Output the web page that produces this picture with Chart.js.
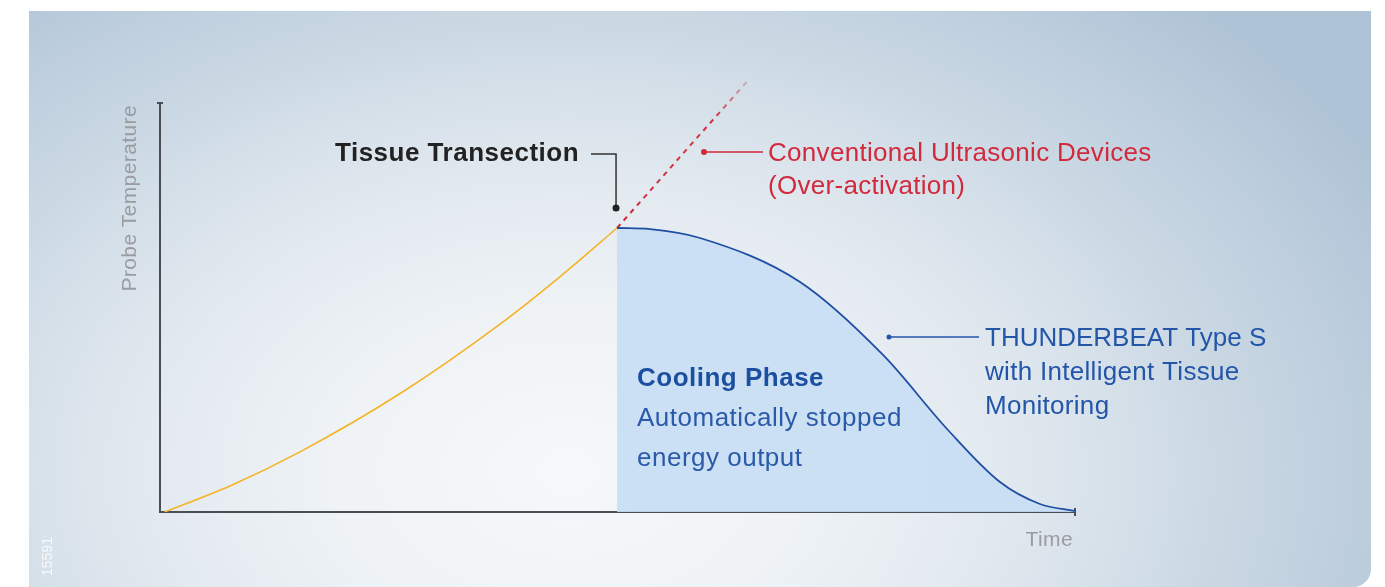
<!DOCTYPE html>
<html>
<head>
<meta charset="utf-8">
<script src="https://cdn.jsdelivr.net/npm/chart.js@4.4.1/dist/chart.umd.min.js"></script>
<style>
  html, body { margin: 0; padding: 0; background: #fff; }
  body { width: 1385px; height: 587px; position: relative; overflow: hidden; }
  #panel {
    position: absolute; left: 29px; top: 11px; width: 1342px; height: 576px;
    border-radius: 0 0 18px 0;
    background: radial-gradient(ellipse 930px 640px at 540px 460px,
      #f6f8fa 0%, #eff3f6 25%, #dfe7ee 50%, #c9d7e3 72%, #afc3d6 100%);
  }
  #chart { position: absolute; left: 0; top: 0; }
</style>
</head>
<body>
<div id="panel"></div>
<canvas id="chart" width="1385" height="587"></canvas>
<script>
// time (0-100) / probe temperature (0-100)
const heatX = [0.5, 7.7, 15.3, 26.2, 37.2, 43.7, 49.95];
const heatY = [0, 6.4, 14.7, 28.9, 46.0, 57.5, 69.44];

const overX = [49.95, 57.1, 64.3];
const overY = [69.44, 87.5, 105.6];

const coolX = [49.95, 53.55, 59.02, 69.95, 79.02, 86.12, 91.8, 96.17, 100];
const coolY = [69.44, 69.15, 66.99, 56.23, 38.39, 20.05, 7.33, 1.96, 0.24];

const axisLabels = ['Time', 'Probe Temperature'];

const pts = (xs, ys) => xs.map((x, i) => ({ x: x, y: ys[i] }));

const FONT = '"Liberation Sans", Arial, Helvetica, sans-serif';

const overlay = {
  id: 'overlay',
  beforeDatasetsDraw(chart) {
    const { ctx } = chart;
    const xs = chart.scales.x, ys = chart.scales.y;
    const x0 = xs.getPixelForValue(0), x1 = xs.getPixelForValue(100);
    const y0 = ys.getPixelForValue(0), y1 = ys.getPixelForValue(100);
    ctx.save();
    ctx.strokeStyle = '#4a4d52';
    ctx.lineWidth = 2;
    ctx.beginPath();
    ctx.moveTo(x0, y1); ctx.lineTo(x0, y0); ctx.lineTo(x1, y0);
    ctx.moveTo(x0 - 3, y1); ctx.lineTo(x0 + 3, y1);
    ctx.moveTo(x1, y0 - 4); ctx.lineTo(x1, y0 + 4);
    ctx.stroke();

    // axis titles
    ctx.fillStyle = '#9a9c9f';
    ctx.font = '21px ' + FONT;
    ctx.letterSpacing = '0.4px';
    ctx.textBaseline = 'middle';
    ctx.textAlign = 'right';
    ctx.fillText(axisLabels[0], x1 - 2, y0 + 28);
    ctx.save();
    ctx.translate(x0 - 30, y1 + 2);
    ctx.rotate(-Math.PI / 2);
    ctx.textAlign = 'right';
    ctx.fillText(axisLabels[1], 0, 0);
    ctx.restore();

    // id number
    ctx.save();
    ctx.translate(48, 576);
    ctx.rotate(-Math.PI / 2);
    ctx.fillStyle = 'rgba(255,255,255,0.8)';
    ctx.font = '14px ' + FONT;
    ctx.letterSpacing = '0px';
    ctx.textAlign = 'left';
    ctx.fillText('15591', 0, 0);
    ctx.restore();
    ctx.restore();
  },
  afterDatasetsDraw(chart) {
    const { ctx } = chart;
    const xs = chart.scales.x;
    const dot = (x, y, r, c) => {
      ctx.fillStyle = c; ctx.beginPath(); ctx.arc(x, y, r, 0, Math.PI * 2); ctx.fill();
    };
    ctx.save();
    ctx.textBaseline = 'middle';
    ctx.textAlign = 'left';

    // Tissue Transection
    const tx = xs.getPixelForValue(heatX[heatX.length - 1]) - 1;
    ctx.strokeStyle = '#333'; ctx.lineWidth = 1.5;
    ctx.beginPath(); ctx.moveTo(591, 154); ctx.lineTo(tx, 154); ctx.lineTo(tx, 208); ctx.stroke();
    dot(tx, 208, 3.5, '#222');
    ctx.fillStyle = '#222';
    ctx.font = 'bold 26px ' + FONT;
    ctx.letterSpacing = '0.5px';
    ctx.fillText('Tissue Transection', 335, 154);

    // Conventional
    const red = '#d12a3d';
    ctx.strokeStyle = red; ctx.lineWidth = 1.5;
    ctx.beginPath(); ctx.moveTo(704, 152); ctx.lineTo(763, 152); ctx.stroke();
    dot(704, 152, 3, red);
    ctx.fillStyle = red;
    ctx.font = '26px ' + FONT;
    ctx.letterSpacing = '0.3px';
    ctx.fillText('Conventional Ultrasonic Devices', 768, 154);
    ctx.fillText('(Over-activation)', 768, 187);

    // Thunderbeat
    const blue = '#2356a8';
    ctx.strokeStyle = blue; ctx.lineWidth = 1.5;
    ctx.beginPath(); ctx.moveTo(889, 337); ctx.lineTo(979, 337); ctx.stroke();
    dot(889, 337, 2.5, blue);
    ctx.fillStyle = blue;
    ctx.letterSpacing = '0px';
    ctx.fillText('THUNDERBEAT Type S', 985, 339);
    ctx.letterSpacing = '0.3px';
    ctx.fillText('with Intelligent Tissue', 985, 373);
    ctx.fillText('Monitoring', 985, 407);

    // Cooling phase
    ctx.fillStyle = '#1b4f9f';
    ctx.font = 'bold 26px ' + FONT;
    ctx.letterSpacing = '0.5px';
    ctx.fillText('Cooling Phase', 637, 379);
    ctx.fillStyle = '#2a5aa8';
    ctx.font = '26px ' + FONT;
    ctx.letterSpacing = '0.5px';
    ctx.fillText('Automatically stopped', 637, 419);
    ctx.fillText('energy output', 637, 459);
    ctx.restore();
  }
};

new Chart(document.getElementById('chart'), {
  type: 'line',
  data: {
    datasets: [
      {
        label: 'THUNDERBEAT Type S',
        data: pts(coolX, coolY),
        borderColor: '#1f4ea3',
        borderWidth: 1.8,
        backgroundColor: 'rgba(200, 222, 244, 0.9)',
        fill: 'origin',
        cubicInterpolationMode: 'monotone',
        pointRadius: 0
      },
      {
        label: 'Heating',
        data: pts(heatX, heatY),
        borderColor: '#f5b325',
        borderWidth: 1.6,
        fill: false,
        cubicInterpolationMode: 'monotone',
        pointRadius: 0
      },
      {
        label: 'Conventional Ultrasonic Devices',
        data: pts(overX, overY),
        borderColor: (c) => {
          const a = c.chart.chartArea;
          if (!a) return '#d12a3d';
          const ys = c.chart.scales.y;
          const g = c.chart.ctx.createLinearGradient(0, ys.getPixelForValue(overY[0]), 0, ys.getPixelForValue(overY[overY.length - 1]));
          g.addColorStop(0, 'rgba(209,42,61,1)');
          g.addColorStop(0.75, 'rgba(209,42,61,0.95)');
          g.addColorStop(1, 'rgba(209,42,61,0.25)');
          return g;
        },
        borderWidth: 2,
        borderDash: [5, 5],
        fill: false,
        pointRadius: 0,
        clip: false
      }
    ]
  },
  options: {
    responsive: false,
    animation: false,
    layout: { padding: { left: 160, right: 310, top: 103, bottom: 75 } },
    plugins: { legend: { display: false }, tooltip: { enabled: false } },
    scales: {
      x: { type: 'linear', min: 0, max: 100, display: false },
      y: { type: 'linear', min: 0, max: 100, display: false }
    }
  },
  plugins: [overlay]
});
</script>
</body>
</html>
